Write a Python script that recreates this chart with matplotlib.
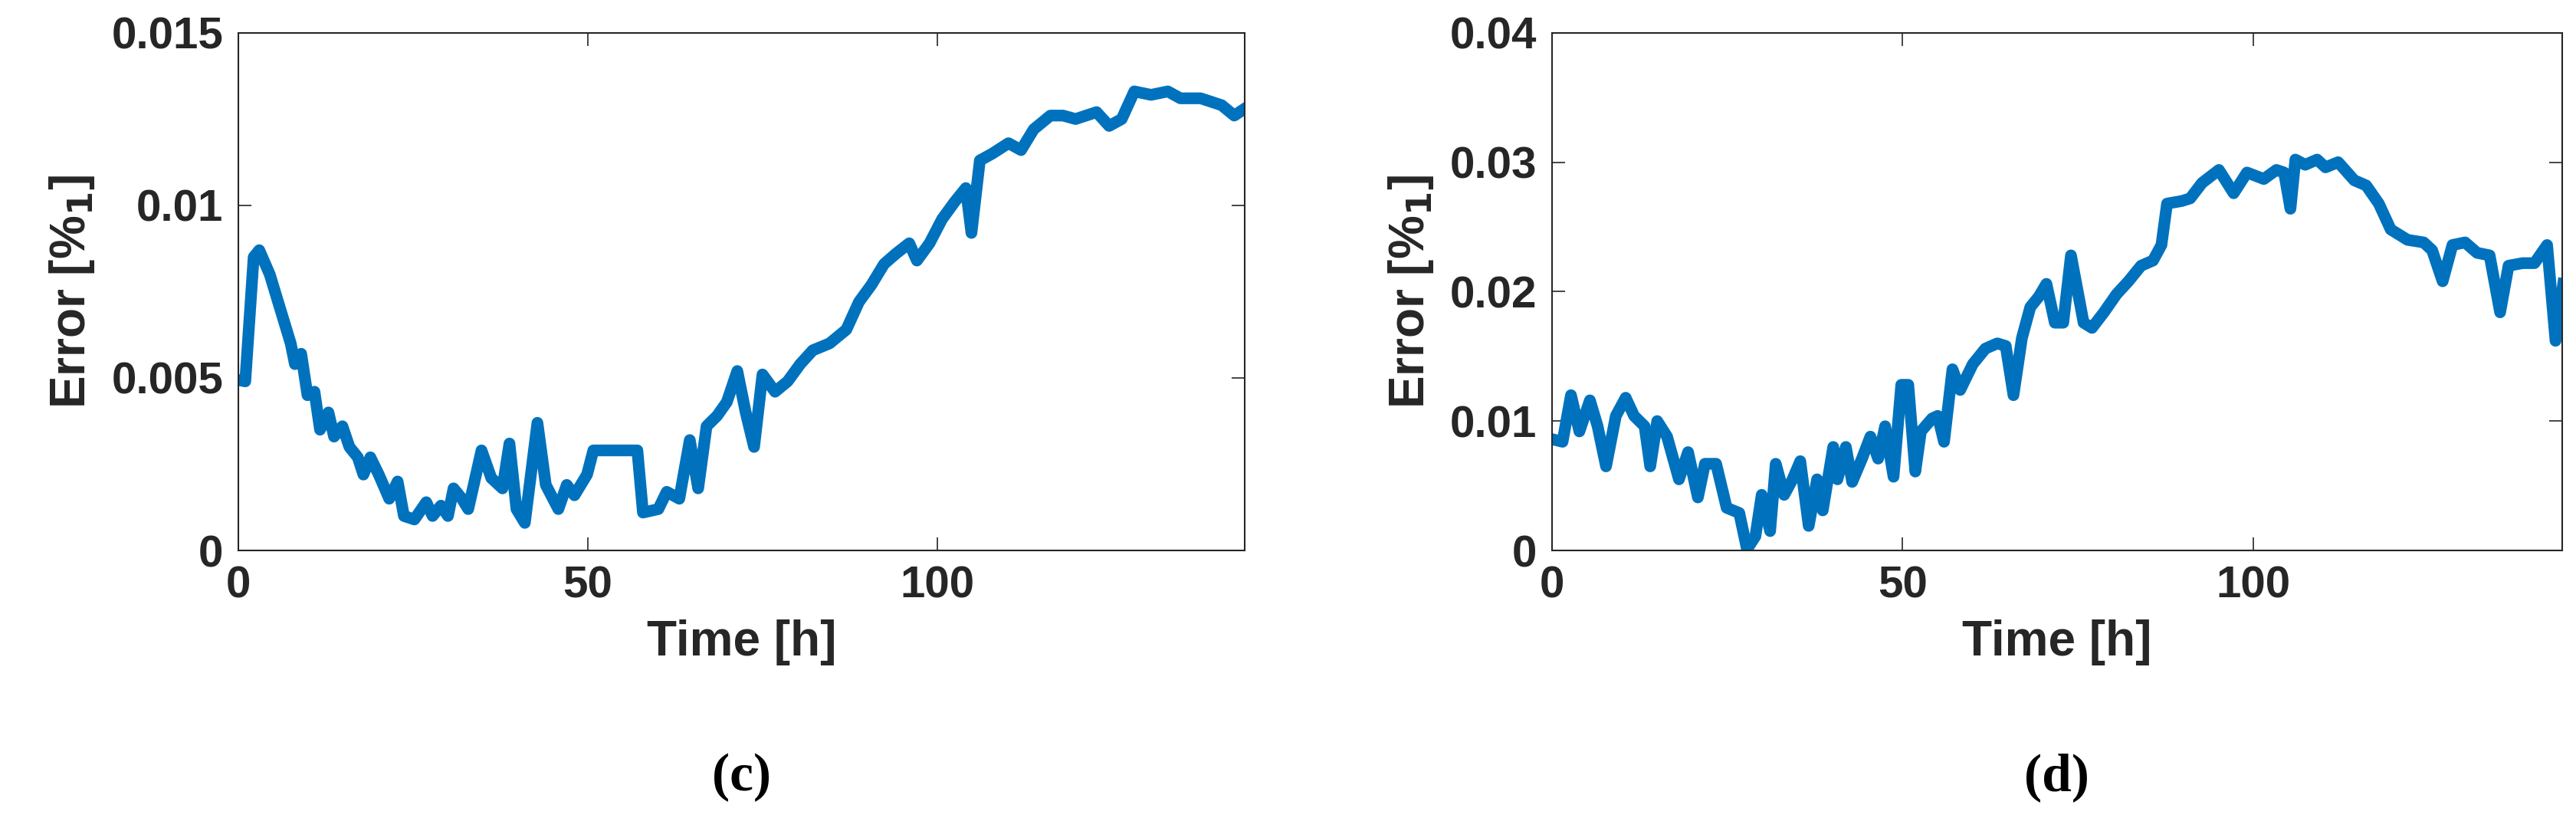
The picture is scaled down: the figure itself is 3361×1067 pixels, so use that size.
import matplotlib
matplotlib.use("Agg")
import matplotlib.pyplot as plt

c_t = [0,1,2.2,3,4.5,6.3,7.5,8.1,9,9.9,10.9,11.7,12.9,13.7,14.9,15.9,17.1,17.9,18.9,20.1,21.6,22.8,23.7,25.2,26.9,27.8,29,30,30.8,32,32.9,34.8,36.2,37.8,38.8,39.8,41,42.8,44,45.8,47,48.1,49.9,50.8,57.1,57.9,60.1,61.3,63.1,64.6,65.8,67,68.5,69.9,71.4,72.6,73.8,75,76.8,78.6,80.4,82.2,84.6,87,88.8,90.6,92.4,94.1,96,97.1,98.9,100.7,102.5,104.1,104.9,106.1,107.9,110.2,112,113.8,116.2,118,119.8,122.8,124.6,126.4,128.2,130.6,133,134.8,137.7,140.7,142.5,144]
c_err = [0.00494,0.0049,0.0085,0.0087,0.0080,0.0068,0.0060,0.0054,0.0057,0.0045,0.0046,0.0035,0.0040,0.0033,0.0036,0.0030,0.0027,0.0022,0.0027,0.0022,0.0015,0.0020,0.0010,0.0009,0.0014,0.0010,0.0013,0.0010,0.0018,0.0015,0.0012,0.0029,0.0021,0.0018,0.0031,0.0012,0.0008,0.0037,0.0019,0.0012,0.0019,0.0016,0.0022,0.0029,0.0029,0.0011,0.0012,0.0017,0.0015,0.0032,0.0018,0.0036,0.0039,0.0043,0.0052,0.0040,0.0030,0.0051,0.0046,0.0049,0.0054,0.0058,0.0060,0.0064,0.0072,0.0077,0.0083,0.0086,0.0089,0.0084,0.0089,0.0096,0.0101,0.0105,0.0092,0.0113,0.0115,0.0118,0.0116,0.0122,0.0126,0.0126,0.0125,0.0127,0.0123,0.0125,0.0133,0.0132,0.0133,0.0131,0.0131,0.0129,0.0126,0.0128]

d_t = [0,1.5,2.7,3.9,5.4,6.5,7.7,9.1,10.5,11.7,13.2,14,15,16.4,18.1,19.4,20.8,21.8,23.4,24.9,26.7,27.8,29,29.9,31.1,31.9,33.1,34.3,35.4,36.6,37.8,38.6,40.1,40.7,41.9,42.8,44.2,45.4,46.5,47.5,48.7,49.8,50.8,51.8,52.6,54.2,55,55.9,57.1,58.2,60,61.8,63.5,64.7,65.8,67,68.2,69.4,70.5,71.7,72.9,74,75.8,77,78.7,80.5,82.2,84,85.7,86.9,87.7,89.8,91,92.7,95.1,97.2,99.1,101.5,103.3,104.4,105.3,106,107.4,109.1,110.3,112.1,114.4,116.1,117.9,119.6,122,124.3,125.5,127,128.4,130.2,131.9,133.7,135.2,136.4,138.4,140.1,141.9,143.1,144.2]
d_err = [0.0086,0.0084,0.0120,0.0092,0.0116,0.0096,0.0065,0.0104,0.0118,0.0104,0.0096,0.0065,0.0100,0.0088,0.0055,0.0076,0.0041,0.0067,0.0067,0.0033,0.0029,0.0001,0.0011,0.0043,0.0015,0.0067,0.0043,0.0055,0.0069,0.0019,0.0055,0.0031,0.0080,0.0055,0.0080,0.0053,0.0071,0.0088,0.0071,0.0096,0.0057,0.0128,0.0128,0.0061,0.0092,0.0102,0.0104,0.0084,0.0140,0.0124,0.0144,0.0156,0.0160,0.0158,0.0120,0.0164,0.0188,0.0196,0.0206,0.0176,0.0176,0.0228,0.0176,0.0172,0.0184,0.0198,0.0208,0.0220,0.0224,0.0236,0.0268,0.0270,0.0272,0.0284,0.0294,0.0276,0.0292,0.0287,0.0294,0.0292,0.0264,0.0302,0.0298,0.0302,0.0296,0.0300,0.0286,0.0282,0.0268,0.0248,0.0240,0.0238,0.0232,0.0208,0.0236,0.0238,0.0230,0.0228,0.0184,0.0220,0.0222,0.0222,0.0236,0.0162,0.0206]

c_yticks = [0, 0.005, 0.01, 0.015]
c_ylabels = ["0", "0.005", "0.01", "0.015"]
d_yticks = [0, 0.01, 0.02, 0.03, 0.04]
d_ylabels = ["0", "0.01", "0.02", "0.03", "0.04"]
x_ticks = [0, 50, 100]
panel_labels = ["(c)", "(d)"]

plt.rcParams['font.family'] = ['Liberation Sans', 'DejaVu Sans']
fig = plt.figure(figsize=(33.61, 10.67), dpi=100)
axes = [fig.add_axes([0.0925, 0.327, 0.3907, 0.633]),
        fig.add_axes([0.6025, 0.327, 0.392, 0.633])]
data = [(c_t, c_err, c_yticks, c_ylabels, 0.015), (d_t, d_err, d_yticks, d_ylabels, 0.04)]
for ax, (t, e, yt, yl, ymax), lab in zip(axes, data, panel_labels):
    ax.plot(t, e, color='#0072BD', lw=11, solid_joinstyle='round')
    ax.set_xlim(0, 144)
    ax.set_ylim(0, ymax)
    ax.set_xticks(x_ticks)
    ax.set_xticklabels([str(v) for v in x_ticks], fontsize=42, fontweight='bold', color='#262626')
    ax.set_yticks(yt)
    ax.set_yticklabels(yl, fontsize=42, fontweight='bold', color='#262626')
    ax.tick_params(direction='in', top=True, right=True, length=12, width=1.2, color='#262626', pad=14)
    for s in ax.spines.values():
        s.set_color('#262626'); s.set_linewidth(1.5)
    ax.set_xlabel("Time [h]", fontsize=46, fontweight='bold', color='#262626', labelpad=12)
    ax.set_ylabel(r"Error [%$_\mathbf{1}$]", fontsize=46, fontweight='bold', color='#262626', labelpad=14)
    bb = ax.get_position()
    fig.text((bb.x0 + bb.x1) / 2, 0.05, lab, ha='center', va='center',
             fontsize=50, family=['Liberation Serif', 'DejaVu Serif'], fontweight='bold')
fig.savefig("out.png", dpi=100)
